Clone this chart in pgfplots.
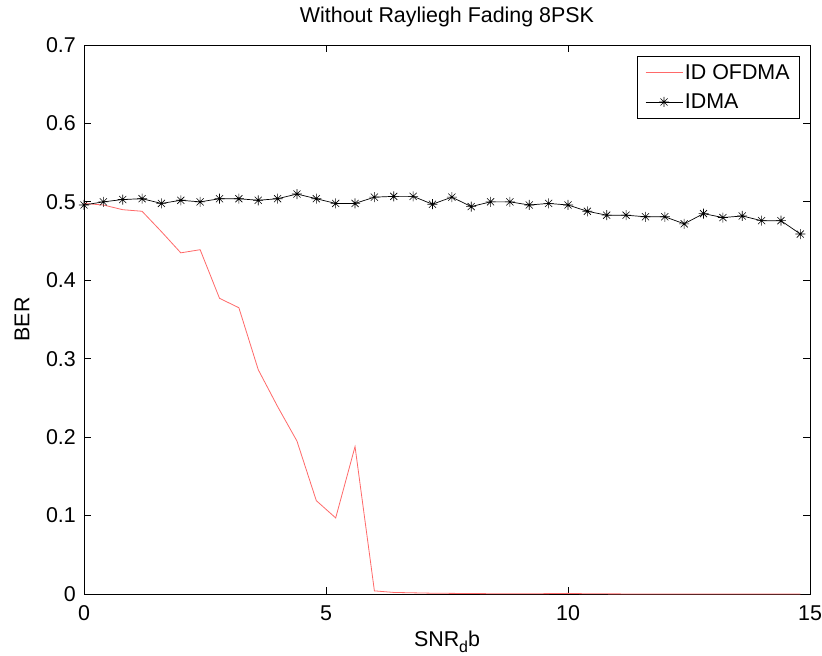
\documentclass[border=0pt]{standalone}
\usepackage{fontspec}
\setmainfont{Liberation Sans}
\usepackage{pgfplots}
\pgfplotsset{compat=1.18}

\definecolor{lred}{RGB}{255,105,105}

% MATLAB style '*' marker: a plus and a cross
\pgfdeclareplotmark{mstar}{%
  \pgfpathmoveto{\pgfpoint{-\pgfplotmarksize}{0pt}}%
  \pgfpathlineto{\pgfpoint{\pgfplotmarksize}{0pt}}%
  \pgfpathmoveto{\pgfpoint{0pt}{-\pgfplotmarksize}}%
  \pgfpathlineto{\pgfpoint{0pt}{\pgfplotmarksize}}%
  \pgfpathmoveto{\pgfpoint{-0.707\pgfplotmarksize}{-0.707\pgfplotmarksize}}%
  \pgfpathlineto{\pgfpoint{0.707\pgfplotmarksize}{0.707\pgfplotmarksize}}%
  \pgfpathmoveto{\pgfpoint{-0.707\pgfplotmarksize}{0.707\pgfplotmarksize}}%
  \pgfpathlineto{\pgfpoint{0.707\pgfplotmarksize}{-0.707\pgfplotmarksize}}%
  \pgfusepathqstroke}

\newcommand{\lbl}{\fontsize{21.5}{25}\selectfont}

\begin{document}
\begin{tikzpicture}
\path[use as bounding box] (-84bp,-62bp) rectangle (738bp,594bp);
\begin{axis}[
  scale only axis, width=726bp, height=549bp,
  xmin=0, xmax=15, ymin=0, ymax=0.7,
  xtick={0,5,10,15},
  ytick={0,0.1,0.2,0.3,0.4,0.5,0.6,0.7},
  tick align=inside, major tick length=7bp,
  tick style={black, line width=0.8bp},
  axis line style={line width=0.8bp},
  /pgf/number format/assume math mode=true,
  yticklabel style={/pgf/number format/fixed, /pgf/number format/precision=1,
    anchor=east, inner sep=0pt, xshift=-8bp},
  xticklabel style={anchor=base, inner sep=0pt, yshift=-26bp},
  tick label style={font=\lbl},
  title={Without Rayliegh Fading 8PSK},
  title style={font=\lbl, at={(axis description cs:0.5,1.031)}, anchor=base, inner sep=0pt},
  xlabel={SNR\raisebox{-0.45ex}{\fontsize{16}{16}\selectfont d}b},
  xlabel style={font=\lbl, at={(axis description cs:0.5,-0.0965)}, anchor=base, inner sep=0pt},
  ylabel={BER},
  ylabel style={font=\lbl, at={(axis description cs:-0.0854,0.5)}, anchor=center},
  legend style={at={(axis description cs:1,1)}, xshift=-10bp, yshift=-11bp,
    anchor=north east, draw=black, line width=0.8bp, fill=white,
    font=\lbl, cells={anchor=west},
    inner xsep=8bp, inner ysep=6bp, row sep=9bp},
  legend image code/.code={%
    \draw[mark repeat=2, mark phase=2, #1] plot coordinates {(0bp,0bp) (18.5bp,0bp) (37bp,0bp)};},
]
\addplot[lred, line width=0.8bp] coordinates {
  (0,0.498) (0.4,0.496) (0.8,0.490) (1.2,0.488) (1.6,0.462) (2.0,0.435)
  (2.4,0.439) (2.8,0.377) (3.2,0.365) (3.6,0.286) (4.0,0.239) (4.4,0.195)
  (4.8,0.119) (5.2,0.097) (5.6,0.188) (6.0,0.004) (6.4,0.002) (6.8,0.0015)
  (7.2,0.001) (7.6,0.0008) (8.0,0.0006) (8.4,0.0004) (8.8,0.0003) (9.2,0.0003)
  (9.6,0.0005) (10.0,0.0008) (10.4,0.0003) (10.8,0.0002) (11.2,0.0001) (11.6,0)
  (12.0,0) (12.4,0) (12.8,0) (13.2,0) (13.6,0) (14.0,0) (14.4,0) (14.8,0)
};
\addlegendentry{ID OFDMA}
\addplot[black, line width=0.7bp, mark=mstar, mark size=5bp,
  mark options={line width=0.6bp}] coordinates {
  (0,0.496) (0.4,0.500) (0.8,0.503) (1.2,0.504) (1.6,0.498) (2.0,0.502)
  (2.4,0.500) (2.8,0.504) (3.2,0.504) (3.6,0.502) (4.0,0.504) (4.4,0.510)
  (4.8,0.504) (5.2,0.498) (5.6,0.498) (6.0,0.506) (6.4,0.507) (6.8,0.507)
  (7.2,0.497) (7.6,0.506) (8.0,0.494) (8.4,0.500) (8.8,0.500) (9.2,0.496)
  (9.6,0.498) (10.0,0.496) (10.4,0.488) (10.8,0.483) (11.2,0.483) (11.6,0.481)
  (12.0,0.481) (12.4,0.472) (12.8,0.485) (13.2,0.480) (13.6,0.482) (14.0,0.476)
  (14.4,0.476) (14.8,0.459)
};
\addlegendentry{IDMA}
\end{axis}
\end{tikzpicture}
\end{document}
